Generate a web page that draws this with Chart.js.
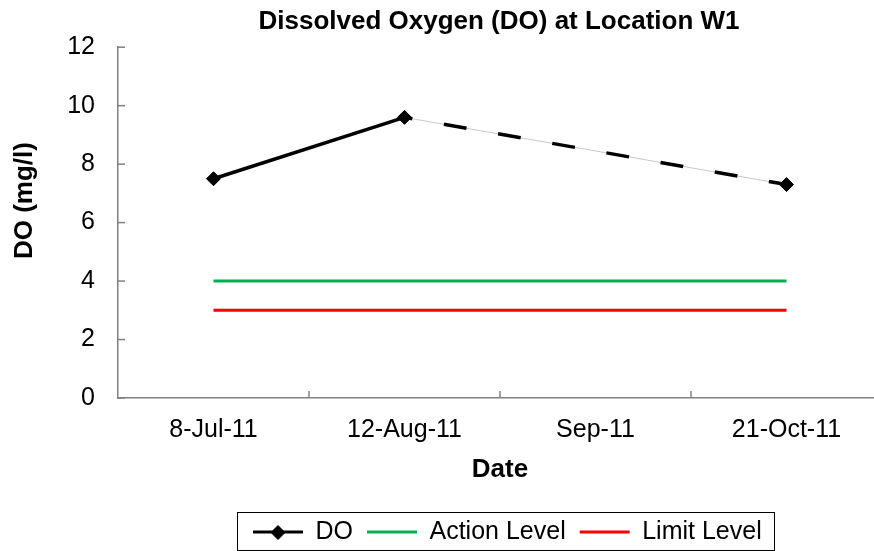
<!DOCTYPE html>
<html><head><meta charset="utf-8">
<script src="https://cdn.jsdelivr.net/npm/chart.js@4.4.0/dist/chart.umd.min.js"></script>
<style>html,body{margin:0;padding:0;background:#fff;overflow:hidden}#wrap{width:874px;height:551px;position:relative;overflow:hidden}canvas{display:block}</style>
</head><body><div id="wrap"><canvas id="c" width="890" height="551"></canvas></div>
<script>
const categories = ['8-Jul-11', '12-Aug-11', 'Sep-11', '21-Oct-11'];
const doValues = [7.5, 9.6, null, 7.3];
const actionLevel = [4, 4, 4, 4];
const limitLevel = [3, 3, 3, 3];
const yMin = 0, yMax = 12, yStep = 2;
const chartTitle = 'Dissolved Oxygen (DO) at Location W1';
const xTitle = 'Date';
const yTitle = 'DO (mg/l)';
// thin grey line that Excel draws beneath the dashed gap segment
const gapValues = doValues.map((v, i) => (i > 0 ? v : null));

const FONT = '"Liberation Sans", Arial, sans-serif';
const AXIS = '#808080';
const LEG_BOX = 50, LEG_FONT = 25, LEG_PAD = 14;

const isGap = ctx => ctx.p0.skip || ctx.p1.skip || (ctx.p1DataIndex - ctx.p0DataIndex) > 1 || doValues[ctx.p0DataIndex] == null;

const decor = {
  id: 'decor',
  afterLayout(chart) {
    const L = chart.legend;
    const h = L.bottom - L.top;
    L.left = 239; L.right = 870;
    L.top = 505.5; L.bottom = L.top + h;
    const T = chart.titleBlock;
    if (T) { T.left = 0; T.right = 998; }
  },
  afterDraw(chart) {
    const ctx = chart.ctx, ca = chart.chartArea, ys = chart.scales.y, xs = chart.scales.x;
    ctx.save();
    ctx.strokeStyle = AXIS; ctx.lineWidth = 1.5;
    const line = (a, b, c, d) => { ctx.beginPath(); ctx.moveTo(a, b); ctx.lineTo(c, d); ctx.stroke(); };
    ys.ticks.forEach(t => { const py = ys.getPixelForValue(t.value); line(ca.left, py, ca.left + 7, py); });
    for (let i = 0; i < categories.length - 1; i++) {
      const px = (xs.getPixelForValue(i) + xs.getPixelForValue(i + 1)) / 2;
      line(px, ca.bottom, px, ca.bottom - 7);
    }
    // y axis title (placed slightly above centre, as in the original)
    ctx.save();
    ctx.translate(ys.left + 20, (ca.top + ca.bottom) / 2 - 22);
    ctx.rotate(-Math.PI / 2);
    ctx.fillStyle = '#000';
    ctx.font = 'bold 26px ' + FONT;
    ctx.textAlign = 'center'; ctx.textBaseline = 'middle';
    ctx.fillText(yTitle, 0, 0);
    ctx.restore();
    // legend frame and marker
    const hb = chart.legend.legendHitBoxes;
    if (hb && hb.length) {
      const last = hb[hb.length - 1];
      const l = hb[0].left - 16, r = last.left + last.width + 12;
      const t = hb[0].top - 7.5, b = hb[0].top + LEG_FONT + 5.5;
      ctx.strokeStyle = '#000'; ctx.lineWidth = 1;
      ctx.strokeRect(Math.round(l) + 0.5, Math.round(t) + 0.5, Math.round(r - l), Math.round(b - t));
      ctx.fillStyle = '#000'; ctx.strokeStyle = '#000';
      Chart.helpers.drawPoint(ctx, {pointStyle: 'rectRot', radius: 7, borderWidth: 1, rotation: 0},
        hb[0].left + LEG_BOX / 2, hb[0].top + LEG_FONT / 2 + 0.5);
    }
    ctx.restore();
  }
};

new Chart(document.getElementById('c'), {
  type: 'line',
  data: {
    labels: categories,
    datasets: [
      {
        label: 'DO', data: doValues, order: 0, spanGaps: true,
        borderColor: '#000', backgroundColor: '#000', borderWidth: 3.5, tension: 0,
        pointStyle: 'rectRot', pointRadius: 7, pointBackgroundColor: '#000', pointBorderColor: '#000', pointBorderWidth: 1,
        segment: {
          borderDash: ctx => isGap(ctx) ? [23, 32] : undefined,
          borderDashOffset: ctx => isGap(ctx) ? 15 : undefined
        }
      },
      {
        label: 'Action Level', data: actionLevel, order: 1,
        borderColor: '#00b050', backgroundColor: '#00b050', borderWidth: 3, pointRadius: 0
      },
      {
        label: 'Limit Level', data: limitLevel, order: 2,
        borderColor: '#ff0000', backgroundColor: '#ff0000', borderWidth: 3, pointRadius: 0
      },
      {
        label: '_gap', data: gapValues, order: 3, spanGaps: true,
        borderColor: '#c8c8c8', backgroundColor: '#c8c8c8', borderWidth: 1, pointRadius: 0
      }
    ]
  },
  options: {
    responsive: false, animation: false, events: [],
    layout: {padding: {left: 5, right: 8, top: 0, bottom: 17}},
    font: {family: FONT},
    plugins: {
      tooltip: {enabled: false},
      title: {
        display: true, text: chartTitle, color: '#000',
        font: {family: FONT, size: 26, weight: 'bold'}, padding: {top: 6, bottom: 10}
      },
      legend: {
        position: 'bottom', align: 'start',
        labels: {
          color: '#000', font: {family: FONT, size: LEG_FONT}, boxWidth: LEG_BOX, boxHeight: 3, padding: LEG_PAD,
          filter: item => item.text !== '_gap',
          generateLabels(chart) {
            return Chart.defaults.plugins.legend.labels.generateLabels(chart)
              .map(i => Object.assign(i, {lineWidth: 0, fillStyle: i.strokeStyle, lineDash: []}));
          }
        }
      }
    },
    scales: {
      x: {
        offset: true,
        grid: {display: true, drawOnChartArea: false, drawTicks: false},
        border: {display: true, color: AXIS, width: 1.5},
        ticks: {color: '#000', font: {family: FONT, size: 25}, padding: 17, maxRotation: 0, autoSkip: false},
        title: {display: true, text: xTitle, color: '#000', font: {family: FONT, size: 26, weight: 'bold'}, padding: {top: 4, bottom: 0}},
        afterFit: s => { s.height = 87; }
      },
      y: {
        min: yMin, max: yMax,
        grid: {display: true, drawOnChartArea: false, drawTicks: false},
        border: {display: true, color: AXIS, width: 1.5},
        ticks: {stepSize: yStep, color: '#000', font: {family: FONT, size: 25}, padding: 23},
        title: {display: false, text: yTitle},
        afterFit: s => { s.width = 113; }
      }
    }
  },
  plugins: [decor]
});
</script></body></html>
